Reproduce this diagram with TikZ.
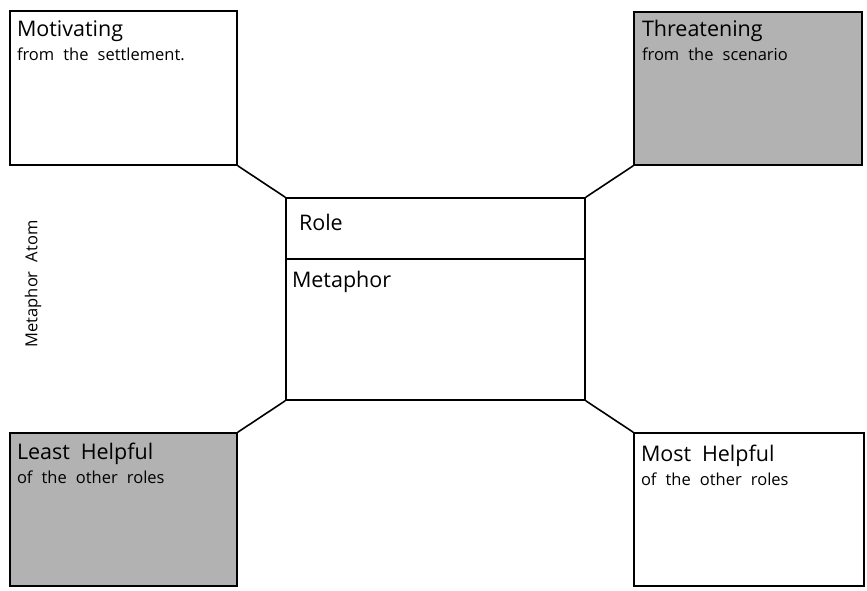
\documentclass[tikz,border=0pt]{standalone}
\usepackage{fontspec}
\setmainfont{Open Sans}
\usetikzlibrary{positioning}
\newcommand{\subtxt}{\fontsize{16.5}{20}\selectfont\spaceskip=0.55em\relax}
\newcommand{\ttltxt}{\fontsize{21.5}{25}\selectfont\spaceskip=0.5em\relax}

\begin{document}
\begin{tikzpicture}[x=1pt,y=-1pt,
                line width=1.6pt,
                grp/.style n args={3}{fill=#1,
                    minimum width=#2,
                    minimum height=#3,
                    inner sep=0pt,
                    rectangle,draw},
                lbl/.style={anchor=north west,align=left,inner sep=0pt,
                    font=\ttltxt}]
                \useasboundingbox (0,0) rectangle (867,590);
                % corner boxes
                \node[grp={white}{227pt}{154pt}](n001) at (123.5,88) {};
                \node[grp={black!30}{228pt}{153pt}](n002) at (748,88.5) {};
                \node[grp={black!30}{227pt}{153pt}](n003) at (123.5,509.5) {};
                \node[grp={white}{230pt}{153pt}](n004) at (749,509.5) {};
                % centre box
                \node[grp={white}{299pt}{61pt}](n00r) at (435.5,228.5) {};
                \node[grp={white}{299pt}{141pt}](n00m) at (435.5,329.5) {};
                \draw (n001.south east) -- (n00r.north west);
                \draw (n002.south west) -- (n00r.north east);
                \draw (n003.north east) -- (n00m.south west);
                \draw (n004.north west) -- (n00m.south east);
                % texts
                \node[lbl](t001) at ([xshift=7pt,yshift=-10pt]n001.north west)
                    {Motivating\\[-1pt]{\subtxt from the settlement.}};
                \node[lbl](t002) at ([xshift=8pt,yshift=-8pt]n002.north west)
                    {Threatening\\[-1pt]{\subtxt from the scenario}};
                \node[lbl](t003) at ([xshift=7pt,yshift=-10pt]n003.north west)
                    {Least Helpful\\[-1pt]{\subtxt of the other roles}};
                \node[lbl](t004) at ([xshift=7pt,yshift=-12pt]n004.north west)
                    {Most Helpful\\[-1pt]{\subtxt of the other roles}};
                \node[lbl](t00r) at ([xshift=13pt,yshift=-16pt]n00r.north west) {Role};
                \node[lbl](t00m) at ([xshift=6pt,yshift=-12pt]n00m.north west) {Metaphor};
                \node[rotate=90,inner sep=0pt,font=\subtxt](t005) at (33,284) {Metaphor Atom};
            \end{tikzpicture}
\end{document}
